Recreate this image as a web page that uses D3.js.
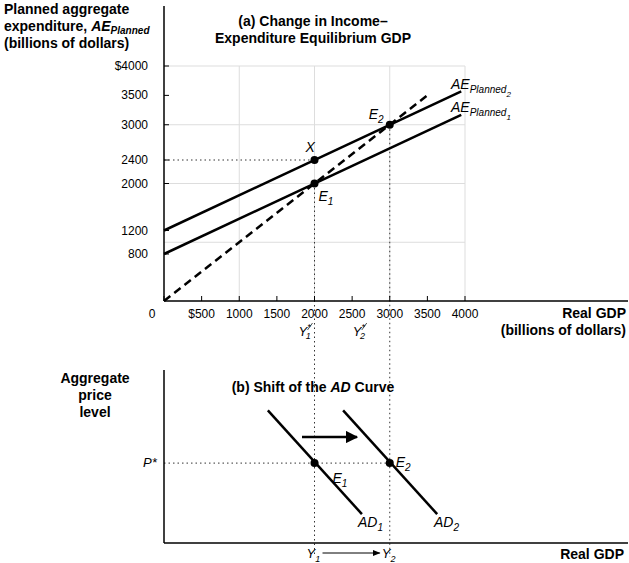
<!DOCTYPE html><html><head><meta charset="utf-8"><script src="https://d3js.org/d3.v7.min.js"></script>
<style>body{margin:0;background:#fff}text{font-family:Arial,"Liberation Sans",sans-serif;fill:#000}</style></head><body>
<svg width="629" height="563"></svg>
<script>
const xTicks=[0,500,1000,1500,2000,2500,3000,3500,4000];
const xTickLabels=["0","$500","1000","1500","2000","2500","3000","3500","4000"];
const yTicks=[800,1200,2000,2400,3000,3500,4000];
const yTickLabels=["800","1200","2000","2400","3000","3500","$4000"];
const gridX=[1000,2000,3000,4000], gridY=[1000,2000,3000,4000];
const ae1=[[0,800],[3950,3170]];
const ae2=[[0,1200],[3950,3570]];
const line45=[[0,0],[3500,3500]];
const eqPoints=[{x:2000,y:2000},{x:2000,y:2400},{x:3000,y:3000}];
// panel b (price level on arbitrary 0-100 scale)
const ad1=[[1380,78],[2630,17]], ad2=[[2380,78],[3630,17]];
const pStar=47;
const svg=d3.select("svg");
const x=d3.scaleLinear().domain([0,4000]).range([164,465]);
const y=d3.scaleLinear().domain([0,4000]).range([301,66]);
const yb=d3.scaleLinear().domain([0,100]).range([543,373]);
const g=svg.append("g");
gridX.forEach(v=>g.append("line").attr("x1",x(v)).attr("x2",x(v)).attr("y1",y(0)).attr("y2",y(4000)).attr("stroke","#ddd"));
gridY.forEach(v=>g.append("line").attr("x1",x(0)).attr("x2",x(4000)).attr("y1",y(v)).attr("y2",y(v)).attr("stroke","#ddd"));
const dot=(a,b,c,d)=>g.append("line").attr("x1",a).attr("y1",b).attr("x2",c).attr("y2",d).attr("stroke","#333").attr("stroke-dasharray","1.5,3");
dot(x(0),y(2400),x(2000),y(2400));
dot(x(2000),y(2000),x(2000),557);
dot(x(3000),y(3000),x(3000),557);
dot(164,yb(pStar),x(3000),yb(pStar));
g.append("line").attr("x1",164).attr("x2",164).attr("y1",6).attr("y2",301).attr("stroke","#000").attr("stroke-width",1.5);
g.append("line").attr("x1",164).attr("x2",628).attr("y1",301).attr("y2",301).attr("stroke","#000").attr("stroke-width",1.5);
xTicks.forEach((v,i)=>{g.append("line").attr("x1",x(v)).attr("x2",x(v)).attr("y1",301).attr("y2",296).attr("stroke","#000");
 g.append("text").attr("x",i==0?152:x(v)).attr("y",318).attr("text-anchor","middle").attr("font-size",12).text(xTickLabels[i]);});
yTicks.forEach((v,i)=>{g.append("line").attr("x1",164).attr("x2",169).attr("y1",y(v)).attr("y2",y(v)).attr("stroke","#000");
 g.append("text").attr("x",148).attr("y",y(v)+4).attr("text-anchor","end").attr("font-size",12).text(yTickLabels[i]);});
const ln=d3.line().x(d=>x(d[0])).y(d=>y(d[1]));
g.append("path").attr("d",ln(ae1)).attr("stroke","#000").attr("stroke-width",2.5).attr("fill","none");
g.append("path").attr("d",ln(ae2)).attr("stroke","#000").attr("stroke-width",2.5).attr("fill","none");
g.append("path").attr("d",ln(line45)).attr("stroke","#000").attr("stroke-width",2.5).attr("stroke-dasharray","8,5").attr("fill","none");
eqPoints.forEach(p=>g.append("circle").attr("cx",x(p.x)).attr("cy",y(p.y)).attr("r",4));
const it=(tx,ty,html,sz=14)=>{const t=g.append("text").attr("x",tx).attr("y",ty).attr("font-size",sz).attr("font-style","italic");t.html(html);return t;};
it(x(2000)-9,y(2400)-8,"X");
it(x(2000)+4,y(2000)+17,"E<tspan font-size='10' dy='4'>1</tspan>");
it(x(3000)-21,y(3000)-6,"E<tspan font-size='10' dy='4'>2</tspan>");
it(451,89,"AE<tspan font-size='10' dy='4'>Planned<tspan font-size='8' dy='4'>2</tspan></tspan>");
it(451,112,"AE<tspan font-size='10' dy='4'>Planned<tspan font-size='8' dy='4'>1</tspan></tspan>");
it(x(2000)-16,336,"Y<tspan font-size='9' dy='-6'>*</tspan><tspan font-size='9' dx='-5' dy='9'>1</tspan>",13);
it(x(3000)-37,336,"Y<tspan font-size='9' dy='-6'>*</tspan><tspan font-size='9' dx='-5' dy='9'>2</tspan>",13);
g.append("line").attr("x1",x(2000)-7).attr("y1",330).attr("x2",x(2000)-2).attr("y2",323).attr("stroke","#000").attr("stroke-width",.7);
g.append("line").attr("x1",x(3000)-28).attr("y1",330).attr("x2",x(3000)-23).attr("y2",323).attr("stroke","#000").attr("stroke-width",.7);
const bt=(tx,ty,s,a="start",sz=14)=>g.append("text").attr("x",tx).attr("y",ty).attr("text-anchor",a).attr("font-size",sz).attr("font-weight","bold").html(s);
bt(4,14,"Planned aggregate");bt(4,31,"expenditure, <tspan font-style='italic'>AE<tspan font-size='10' dy='3'>Planned</tspan></tspan>");bt(4,48,"(billions of dollars)");
bt(313,26,"(a) Change in Income–","middle");bt(313,43,"Expenditure Equilibrium GDP","middle");
bt(626,318,"Real GDP","end");bt(626,335,"(billions of dollars)","end");
g.append("line").attr("x1",164).attr("x2",164).attr("y1",370).attr("y2",543).attr("stroke","#000").attr("stroke-width",1.5);
g.append("line").attr("x1",164).attr("x2",628).attr("y1",543).attr("y2",543).attr("stroke","#000").attr("stroke-width",1.5);
bt(95,383,"Aggregate","middle");bt(95,400,"price","middle");bt(95,417,"level","middle");
bt(313,392,"(b) Shift of the <tspan font-style='italic'>AD</tspan> Curve","middle");
bt(624,559,"Real GDP","end");
const lb=d3.line().x(d=>x(d[0])).y(d=>yb(d[1]));
g.append("path").attr("d",lb(ad1)).attr("stroke","#000").attr("stroke-width",2.5).attr("fill","none");
g.append("path").attr("d",lb(ad2)).attr("stroke","#000").attr("stroke-width",2.5).attr("fill","none");
[2000,3000].forEach(v=>g.append("circle").attr("cx",x(v)).attr("cy",yb(pStar)).attr("r",4));
g.append("defs").html("<marker id='ah' viewBox='0 0 10 10' refX='9' refY='5' markerWidth='5' markerHeight='5' orient='auto'><path d='M0,0L10,5L0,10z'/></marker><marker id='ah2' viewBox='0 0 10 10' refX='9' refY='5' markerWidth='8' markerHeight='8' orient='auto'><path d='M0,1L10,5L0,9z'/></marker>");
g.append("line").attr("x1",302).attr("y1",437).attr("x2",357).attr("y2",437).attr("stroke","#000").attr("stroke-width",2.5).attr("marker-end","url(#ah)");
g.append("line").attr("x1",x(2000)+8).attr("y1",553).attr("x2",x(3000)-10).attr("y2",553).attr("stroke","#000").attr("stroke-width",1).attr("marker-end","url(#ah2)");
it(x(2000)+18,yb(pStar)+20,"E<tspan font-size='10' dy='4'>1</tspan>");
it(x(3000)+6,yb(pStar)+4,"E<tspan font-size='10' dy='4'>2</tspan>");
it(358,527,"AD<tspan font-size='10' dy='4'>1</tspan>");
it(434,527,"AD<tspan font-size='10' dy='4'>2</tspan>");
it(143,467,"P*",13);
it(x(2000)-8,558,"Y<tspan font-size='9' dy='4'>1</tspan>",13);
it(x(3000)-8,558,"Y<tspan font-size='9' dy='4'>2</tspan>",13);
</script></body></html>
